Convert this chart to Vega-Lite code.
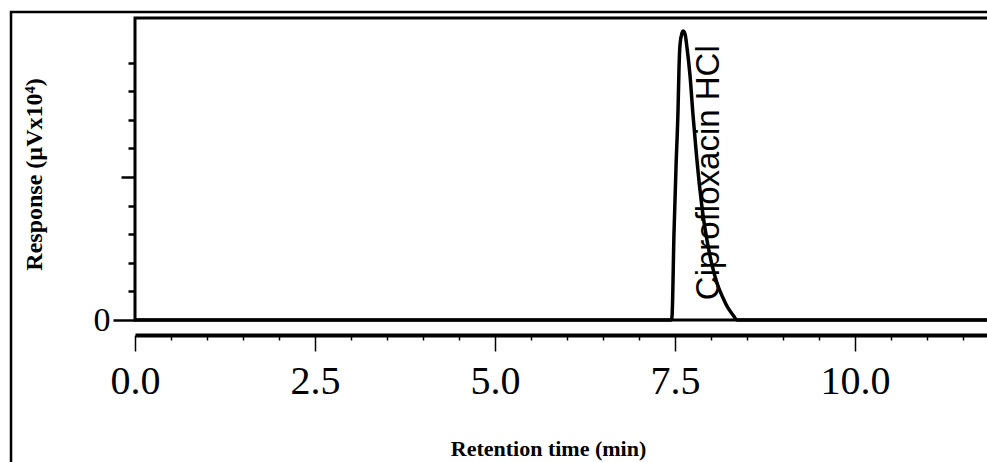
{
  "$schema": "https://vega.github.io/schema/vega-lite/v6.json",
  "width": 854,
  "height": 302,
  "autosize": {"type": "none"},
  "padding": {"left": 135, "top": 18, "right": 0, "bottom": 142},
  "background": "white",
  "config": {"view": {"stroke": "black", "strokeWidth": 3}},
  "datasets": {
    "signal": [
      {"time": 0, "response": 0},
      {"time": 7.444, "response": 0},
      {"time": 7.458, "response": 0.021},
      {"time": 7.486, "response": 0.608},
      {"time": 7.514, "response": 1.07},
      {"time": 7.542, "response": 1.469},
      {"time": 7.556, "response": 1.769},
      {"time": 7.569, "response": 1.923},
      {"time": 7.597, "response": 2.007},
      {"time": 7.611, "response": 2.021},
      {"time": 7.639, "response": 2.0},
      {"time": 7.667, "response": 1.902},
      {"time": 7.708, "response": 1.713},
      {"time": 7.75, "response": 1.434},
      {"time": 7.792, "response": 1.189},
      {"time": 7.847, "response": 0.909},
      {"time": 7.889, "response": 0.734},
      {"time": 7.944, "response": 0.559},
      {"time": 8.014, "response": 0.385},
      {"time": 8.083, "response": 0.259},
      {"time": 8.167, "response": 0.154},
      {"time": 8.236, "response": 0.084},
      {"time": 8.306, "response": 0.035},
      {"time": 8.361, "response": 0},
      {"time": 11.861, "response": 0}
    ]
  },
  "layer": [
    {
      "data": {"name": "signal"},
      "mark": {"type": "line", "color": "black", "strokeWidth": 3.5, "interpolate": "monotone"},
      "encoding": {
        "x": {
          "field": "time",
          "type": "quantitative",
          "scale": {"domain": [0, 11.861], "nice": false, "zero": false},
          "axis": {
            "title": "Retention time (min)",
            "offset": 15,
            "tickCount": 200,
            "values": [0, 0.5, 1, 1.5, 2, 2.5, 3, 3.5, 4, 4.5, 5, 5.5, 6, 6.5, 7, 7.5, 8, 8.5, 9, 9.5, 10, 10.5, 11, 11.5],
            "grid": false,
            "domainColor": "black",
            "domainWidth": 4,
            "tickColor": "black",
            "tickWidth": 1.5,
            "tickSize": {"condition": {"test": "indexof([0, 2.5, 5, 7.5, 10], datum.value) >= 0", "value": 16}, "value": 5},
            "labelExpr": "indexof([0, 2.5, 5, 7.5, 10], datum.value) >= 0 ? format(datum.value, '.1f') : ''",
            "labelFont": "Liberation Serif",
            "labelFontSize": 40,
            "labelColor": "black",
            "labelPadding": 10,
            "labelFlush": false,
            "labelOverlap": false,
            "titleFont": "Liberation Serif",
            "titleFontSize": 22,
            "titleFontWeight": "bold",
            "titleColor": "black",
            "titleX": 413,
            "titleY": 120,
            "titleAlign": "center",
            "titleBaseline": "alphabetic"
          }
        },
        "y": {
          "field": "response",
          "type": "quantitative",
          "scale": {"domain": [0, 2.112], "nice": false, "zero": false},
          "axis": {
            "title": "Response (µVx10⁴)",
            "tickCount": 200,
            "values": [0, 0.2, 0.4, 0.6, 0.8, 1, 1.2, 1.4, 1.6, 1.8],
            "grid": false,
            "domain": false,
            "tickColor": "black",
            "tickWidth": 2.5,
            "tickSize": {"condition": [{"test": "datum.value === 0", "value": 22}, {"test": "datum.value === 1", "value": 14}], "value": 7},
            "labelExpr": "datum.value === 0 ? '0' : ''",
            "labelFont": "Liberation Serif",
            "labelFontSize": 34,
            "labelColor": "black",
            "labelPadding": 3,
            "labelBaseline": "middle",
            "labelOverlap": false,
            "titleFont": "Liberation Serif",
            "titleFontSize": 24,
            "titleFontWeight": "bold",
            "titleColor": "black",
            "titleAngle": 270,
            "titleX": -101,
            "titleY": 156,
            "titleAlign": "center",
            "titleBaseline": "middle"
          }
        }
      }
    },
    {
      "data": {"values": [{"label": "Ciprofloxacin HCl"}]},
      "mark": {"type": "text", "angle": 270, "font": "Liberation Sans", "fontSize": 33, "color": "black", "align": "center", "baseline": "middle"},
      "encoding": {
        "x": {"datum": 7.97},
        "y": {"datum": 1.03},
        "text": {"field": "label"}
      }
    },
    {
      "data": {"values": [{}]},
      "mark": {"type": "rect", "fill": null, "stroke": "black", "strokeWidth": 2.5},
      "encoding": {
        "x": {"datum": -1.722},
        "x2": {"datum": 12.4},
        "y": {"datum": 2.154},
        "y2": {"datum": -1.3}
      }
    }
  ]
}
